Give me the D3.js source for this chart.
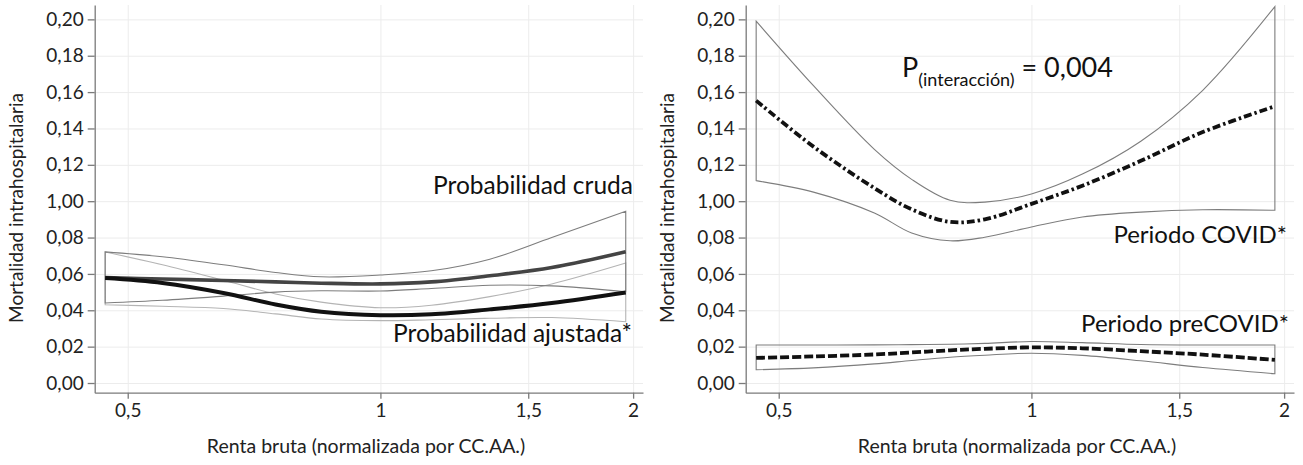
<!DOCTYPE html>
<html>
<head>
<meta charset="utf-8">
<script src="https://cdn.jsdelivr.net/npm/d3@7"></script>
<style>
  body { margin: 0; background: #fff; }
  svg { display: block; font-family: Lato, "Open Sans", sans-serif; }
  .grid line { stroke: #ececec; stroke-width: 1; }
  .grid path { display: none; }
  .axis path, .axis line { stroke: #7a7a7a; stroke-width: 1.3; }
  .axis text { fill: #222; font-size: 19px; font-family: Lato, sans-serif; }
</style>
</head>
<body>
<div id="main"></div>
<script>
'use strict';

// ticks
var xTicks = [0.5, 1, 1.5, 2];
var xTickLabels = ['0,5', '1', '1,5', '2'];
var yTicks = [0, 0.02, 0.04, 0.06, 0.08, 0.10, 0.12, 0.14, 0.16, 0.18, 0.20];
var yTickLabels = ['0,00', '0,02', '0,04', '0,06', '0,08', '1,00', '0,12', '0,14', '0,16', '0,18', '0,20'];

// left panel : crude vs adjusted probability
var renta = [0.47, 0.55, 0.65, 0.75, 0.85, 1.0, 1.15, 1.35, 1.6, 1.96];
var crudaProb = [0.0580, 0.0572, 0.0564, 0.0556, 0.0549, 0.0545, 0.0556, 0.0590, 0.0635, 0.0722];
var crudaSup  = [0.0721, 0.0694, 0.0650, 0.0608, 0.0584, 0.0594, 0.0617, 0.0681, 0.0800, 0.0945];
var crudaInf  = [0.0440, 0.0455, 0.0478, 0.0500, 0.0507, 0.0506, 0.0520, 0.0538, 0.0534, 0.0502];
var ajustProb = [0.0577, 0.0550, 0.0495, 0.0432, 0.0392, 0.0373, 0.0378, 0.0405, 0.0440, 0.0498];
var ajustSup  = [0.0721, 0.0650, 0.0565, 0.0490, 0.0445, 0.0414, 0.0428, 0.0475, 0.0545, 0.0660];
var ajustInf  = [0.0430, 0.0422, 0.0410, 0.0380, 0.0352, 0.0343, 0.0348, 0.0356, 0.0360, 0.0337];

// right panel : COVID vs preCOVID
var renta2 = [0.47, 0.55, 0.65, 0.72, 0.80, 0.88, 1.0, 1.15, 1.35, 1.6, 1.95];
var covidProb = [0.1553, 0.1300, 0.1072, 0.0955, 0.0886, 0.0900, 0.0985, 0.1085, 0.1222, 0.1380, 0.1522];
var covidSup  = [0.1990, 0.1635, 0.1285, 0.1120, 0.1005, 0.0995, 0.1040, 0.1149, 0.1330, 0.1610, 0.2070];
var covidInf  = [0.1113, 0.1050, 0.0935, 0.0825, 0.0782, 0.0802, 0.0858, 0.0913, 0.0940, 0.0953, 0.0950];
var preProb = [0.0138, 0.0146, 0.0157, 0.0168, 0.0180, 0.0188, 0.0196, 0.0191, 0.0175, 0.0156, 0.0127];
var preSup  = [0.0209, 0.0209, 0.0210, 0.0211, 0.0213, 0.0218, 0.0228, 0.0222, 0.0212, 0.0209, 0.0209];
var preInf  = [0.0073, 0.0083, 0.0105, 0.0124, 0.0142, 0.0153, 0.0164, 0.0152, 0.0122, 0.0085, 0.0051];

var width = 1303, height = 465;
var svg = d3.select('#main').append('svg').attr('width', width).attr('height', height);

function zip(xs, ys) {
  return xs.map(function(x, i) { return [x, ys[i]]; });
}

function drawPanel(offset) {
  var x = d3.scaleLog().domain([0.4567, 2.055]).range([94.7 + offset, 643 + offset]);
  var y = d3.scaleLinear().domain([-0.00533, 0.2079]).range([392.7, 5]);
  var g = svg.append('g');

  // grid
  g.append('g').attr('class', 'grid')
    .attr('transform', 'translate(0,392.7)')
    .call(d3.axisBottom(x).tickValues(xTicks).tickSize(-387.7).tickFormat(''));
  g.append('g').attr('class', 'grid')
    .attr('transform', 'translate(' + (94.7 + offset) + ',0)')
    .call(d3.axisLeft(y).tickValues(yTicks).tickSize(-548.3).tickFormat(''));

  // axes
  g.append('g').attr('class', 'axis')
    .attr('transform', 'translate(0,392.7)')
    .call(d3.axisBottom(x).tickValues(xTicks).tickSizeInner(6).tickSizeOuter(0).tickPadding(5)
      .tickFormat(function(d, i) { return xTickLabels[i]; }));
  g.append('g').attr('class', 'axis')
    .attr('transform', 'translate(' + (94.7 + offset) + ',0)')
    .call(d3.axisLeft(y).tickValues(yTicks).tickSizeInner(7).tickSizeOuter(0).tickPadding(4)
      .tickFormat(function(d, i) { return yTickLabels[i]; }));

  // titles
  g.append('text')
    .attr('x', 366 + offset).attr('y', 453)
    .attr('text-anchor', 'middle')
    .style('font-size', '19.5px').style('fill', '#222')
    .text('Renta bruta (normalizada por CC.AA.)');
  g.append('text')
    .attr('transform', 'translate(' + (23 + offset) + ',208) rotate(-90)')
    .attr('text-anchor', 'middle')
    .style('font-size', '19px').style('fill', '#222')
    .text('Mortalidad intrahospitalaria');

  return { g: g, x: x, y: y };
}

function band(p, xs, sup, inf, color) {
  var line = d3.line().x(function(d) { return p.x(d[0]); }).y(function(d) { return p.y(d[1]); })
    .curve(d3.curveCatmullRom.alpha(0.5));
  var d = line(zip(xs, sup)) + 'L' + line(zip(xs, inf).reverse()).slice(1) + 'Z';
  p.g.append('path').attr('d', d)
    .attr('fill', 'none').attr('stroke', color).attr('stroke-width', 1.1);
}

function curve(p, xs, ys, color, w, dash) {
  var line = d3.line().x(function(d) { return p.x(d[0]); }).y(function(d) { return p.y(d[1]); })
    .curve(d3.curveCatmullRom.alpha(0.5));
  p.g.append('path').attr('d', line(zip(xs, ys)))
    .attr('fill', 'none').attr('stroke', color).attr('stroke-width', w)
    .attr('stroke-dasharray', dash || null);
}

function label(p, x, y, txt, size) {
  p.g.append('text').attr('x', x).attr('y', y)
    .attr('text-anchor', 'end')
    .style('font-size', size + 'px').style('fill', '#111')
    .text(txt);
}

// left
var left = drawPanel(0);
band(left, renta, ajustSup, ajustInf, '#b4b4b4');
band(left, renta, crudaSup, crudaInf, '#7d7d7d');
curve(left, renta, crudaProb, '#444', 3.6);
curve(left, renta, ajustProb, '#111', 4);
label(left, 633, 194, 'Probabilidad cruda', 24.5);
label(left, 632, 342, 'Probabilidad ajustada*', 24.5);

// right
var right = drawPanel(651);
band(right, renta2, covidSup, covidInf, '#7d7d7d');
band(right, renta2, preSup, preInf, '#7d7d7d');
curve(right, renta2, covidProb, '#111', 3.8, '8,3,2.5,3');
curve(right, renta2, preProb, '#111', 3.8, '9,3');
label(right, 1287, 243, 'Periodo COVID*', 24);
label(right, 1289, 332, 'Periodo preCOVID*', 24);

var pt = right.g.append('text').attr('x', 902).attr('y', 77)
  .style('font-size', '27px').style('fill', '#111');
pt.append('tspan').text('P');
pt.append('tspan').attr('dy', 9).style('font-size', '18px').text('(interacción)');
pt.append('tspan').attr('dy', -9).text(' = 0,004');
</script>
</body>
</html>
